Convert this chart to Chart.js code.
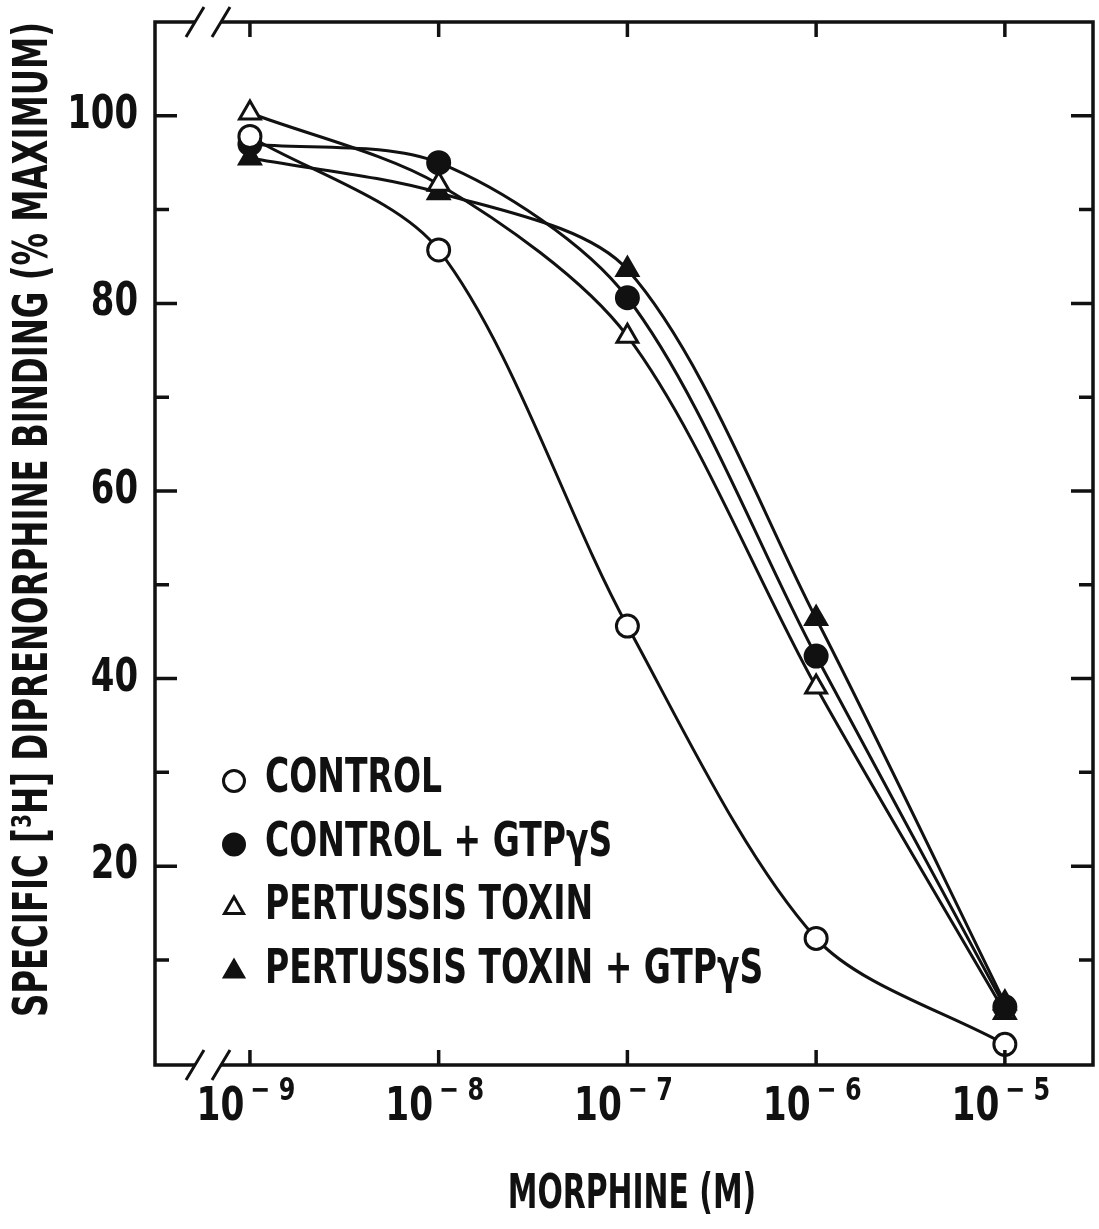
<!DOCTYPE html>
<html>
<head>
<meta charset="utf-8">
<script src="https://cdn.jsdelivr.net/npm/chart.js@4.4.1/dist/chart.umd.min.js"></script>
<style>
  html, body { margin: 0; padding: 0; background: #fff; }
  canvas { display: block; }
</style>
</head>
<body>
<canvas id="binding" width="1099" height="1229"></canvas>
<script>
// morphine concentration (M) and % of maximal specific binding
const doses = [1e-9, 1e-8, 1e-7, 1e-6, 1e-5];
const control = [97.8, 85.7, 45.6, 12.3, 1.0];
const controlGtp = [97.0, 95.0, 80.6, 42.4, 5.0];
const pertussis = [100.3, 92.7, 76.5, 39.1, 4.4];
const pertussisGtp = [95.5, 91.8, 83.6, 46.4, 5.4];

const seriesNames = ['CONTROL', 'CONTROL + GTPγS', 'PERTUSSIS TOXIN', 'PERTUSSIS TOXIN + GTPγS'];
const xTickExponents = [-9, -8, -7, -6, -5];
const yTickLabels = [20, 40, 60, 80, 100];
const yMinorTicks = [10, 30, 50, 70, 90];

// x range in decades; the frame's right edge sits a little past the plot area
const X_MIN_EXP = -9.503, X_MAX_EXP = -4.586, FRAME_RIGHT_EXP = -4.533;

const FONT = "'Liberation Sans Narrow', 'DejaVu Sans Condensed', 'Liberation Sans', sans-serif";
const INK = '#111';

function series(label, values, style, filled) {
  return {
    label: label,
    data: doses.map((d, i) => ({ x: d, y: values[i] })),
    borderColor: INK,
    borderWidth: 3,
    tension: 0.3,
    pointStyle: style,
    pointRadius: style === 'triangle' ? 12 : 11,
    pointBorderWidth: 3,
    pointBorderColor: INK,
    pointBackgroundColor: filled ? INK : '#fff',
    backgroundColor: filled ? INK : '#fff'
  };
}

// bold text squeezed horizontally, the lettering on this figure is very condensed
function squeezed(ctx, text, x, y, size, k, align, baseline, angle) {
  ctx.save();
  ctx.font = `bold ${size}px ${FONT}`;
  ctx.textAlign = align;
  ctx.textBaseline = baseline;
  ctx.translate(x, y);
  if (angle) ctx.rotate(angle);
  ctx.scale(k, 1);
  ctx.fillText(text, 0, 0);
  ctx.restore();
}

function textWidth(ctx, text, size, k) {
  ctx.font = `bold ${size}px ${FONT}`;
  return ctx.measureText(text).width * k;
}

// box frame with inward ticks, axis breaks, tick labels, titles and key
const frame = {
  id: 'frame',
  afterDraw(chart) {
    const { ctx, chartArea: a, scales: { x, y } } = chart;
    const right = x.getPixelForValue(10 ** FRAME_RIGHT_EXP);
    ctx.save();
    ctx.strokeStyle = INK;
    ctx.fillStyle = INK;
    ctx.lineWidth = 3.5;
    ctx.lineJoin = 'miter';

    const b1 = a.left + 40, b2 = a.left + 66;
    ctx.beginPath();
    ctx.moveTo(b1, a.top); ctx.lineTo(a.left, a.top); ctx.lineTo(a.left, a.bottom); ctx.lineTo(b1, a.bottom);
    ctx.moveTo(b2, a.top); ctx.lineTo(right, a.top); ctx.lineTo(right, a.bottom); ctx.lineTo(b2, a.bottom);
    ctx.stroke();

    ctx.beginPath();
    for (const yy of [a.top, a.bottom]) {
      for (const xx of [b1, b2]) {
        ctx.moveTo(xx - 9, yy + 15);
        ctx.lineTo(xx + 9, yy - 15);
      }
    }
    ctx.lineWidth = 3;
    ctx.stroke();

    ctx.beginPath();
    ctx.lineWidth = 3.5;
    for (const e of xTickExponents) {
      const px = x.getPixelForValue(10 ** e);
      ctx.moveTo(px, a.bottom); ctx.lineTo(px, a.bottom - 15);
      ctx.moveTo(px, a.top); ctx.lineTo(px, a.top + 15);
    }
    for (const v of yTickLabels) {
      const py = y.getPixelForValue(v);
      ctx.moveTo(a.left, py); ctx.lineTo(a.left + 22, py);
      ctx.moveTo(right, py); ctx.lineTo(right - 22, py);
    }
    for (const v of yMinorTicks) {
      const py = y.getPixelForValue(v);
      ctx.moveTo(a.left, py); ctx.lineTo(a.left + 14, py);
      ctx.moveTo(right, py); ctx.lineTo(right - 14, py);
    }
    ctx.stroke();

    // y tick labels
    for (const v of yTickLabels) {
      squeezed(ctx, String(v), a.left - 17, y.getPixelForValue(v), 46, 0.82, 'right', 'middle');
    }

    // x tick labels: 10 with a raised exponent
    for (const e of xTickExponents) {
      const px = x.getPixelForValue(10 ** e);
      const base = '10', sup = '− ' + (-e);
      const wb = textWidth(ctx, base, 46, 0.83);
      const ws = textWidth(ctx, sup, 32, 0.83);
      const x0 = px - 4 - (wb + 6 + ws) / 2;
      squeezed(ctx, base, x0, a.bottom + 55, 46, 0.83, 'left', 'alphabetic');
      squeezed(ctx, sup, x0 + wb + 6, a.bottom + 35, 32, 0.83, 'left', 'alphabetic');
    }

    // axis titles
    squeezed(ctx, 'MORPHINE (M)', (a.left + right) / 2 + 8, a.bottom + 131, 48, 0.69, 'center', 'middle');
    squeezed(ctx, 'SPECIFIC [³H] DIPRENORPHINE BINDING (% MAXIMUM)', 35, (a.top + a.bottom) / 2 - 24,
      48, 0.75, 'center', 'middle', -Math.PI / 2);

    // key, one row per series
    chart.data.datasets.forEach((ds, i) => {
      const cy = a.bottom - 285 + i * 63.5;
      ctx.fillStyle = ds.pointBackgroundColor;
      ctx.strokeStyle = INK;
      ctx.lineWidth = 3;
      Chart.helpers.drawPoint(ctx, {
        pointStyle: ds.pointStyle,
        radius: ds.pointStyle === 'triangle' ? 11 : 10.5,
        rotation: 0,
        borderWidth: 3
      }, a.left + 79, cy + 1);
      ctx.fillStyle = INK;
      squeezed(ctx, ds.label, a.left + 110, cy, 48, 0.765, 'left', 'middle');
    });
    ctx.restore();
  }
};

new Chart(document.getElementById('binding'), {
  type: 'line',
  data: {
    datasets: [
      series(seriesNames[0], control, 'circle', false),
      series(seriesNames[1], controlGtp, 'circle', true),
      series(seriesNames[2], pertussis, 'triangle', false),
      series(seriesNames[3], pertussisGtp, 'triangle', true)
    ]
  },
  options: {
    responsive: false,
    animation: false,
    layout: { padding: { left: 155, top: 22, right: 16, bottom: 164 } },
    scales: {
      x: { type: 'logarithmic', display: false, min: 10 ** X_MIN_EXP, max: 10 ** X_MAX_EXP },
      y: { type: 'linear', display: false, min: -1.2, max: 110 }
    },
    plugins: {
      tooltip: { enabled: false },
      legend: { display: false }
    }
  },
  plugins: [frame]
});
</script>
</body>
</html>
